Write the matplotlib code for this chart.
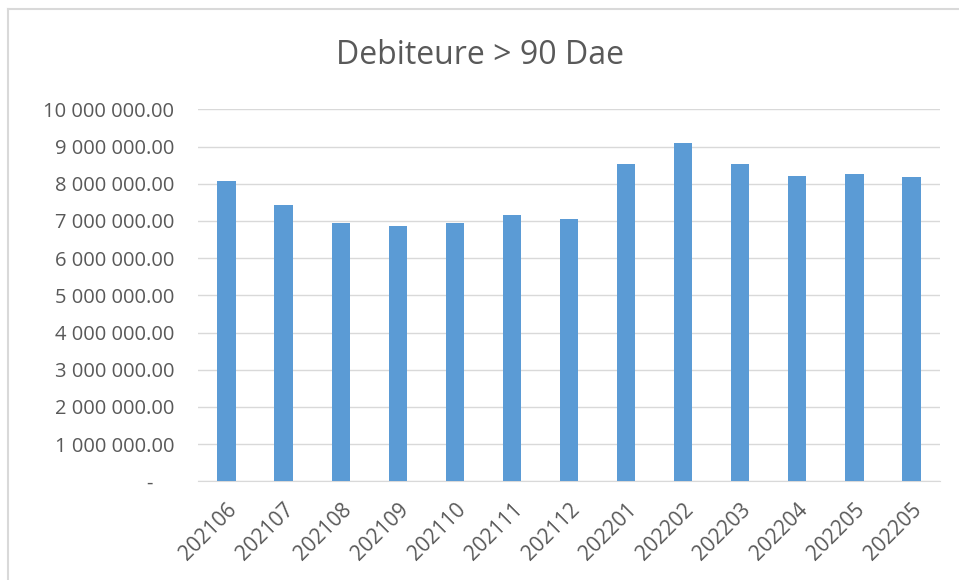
import matplotlib.pyplot as plt
from matplotlib.ticker import FuncFormatter

# months on the x axis (the last one repeats in the source sheet)
months = ['202106', '202107', '202108', '202109', '202110', '202111', '202112',
          '202201', '202202', '202203', '202204', '202205', '202205']
debtors_90 = [8080000, 7420000, 6940000, 6870000, 6940000, 7150000, 7050000,
              8530000, 9090000, 8530000, 8210000, 8250000, 8180000]
y_ticks = [0, 1000000, 2000000, 3000000, 4000000, 5000000, 6000000,
           7000000, 8000000, 9000000, 10000000]

plt.rcParams['font.family'] = ['Open Sans', 'DejaVu Sans']
grey = '#595959'

fig = plt.figure(figsize=(9.59, 5.8), dpi=100)
ax = fig.add_axes([198 / 959, 1 - 481.3 / 580, 742 / 959, 372 / 580])

x = range(len(months))
ax.bar(x, debtors_90, width=0.32, color='#5B9BD5', zorder=3)

ax.set_xlim(-0.5, len(months) - 0.5)
ax.set_ylim(0, 10000000)
ax.set_yticks(y_ticks)


def money(v, pos):
    if v == 0:
        return '-    '
    return '{:,.2f}'.format(v).replace(',', ' ')


ax.yaxis.set_major_formatter(FuncFormatter(money))
ax.grid(axis='y', color='#D9D9D9', linewidth=1, zorder=0)
for s in ['top', 'right', 'left']:
    ax.spines[s].set_visible(False)
ax.spines['bottom'].set_color('#D9D9D9')
ax.tick_params(axis='both', length=0, colors=grey)
ax.tick_params(axis='y', pad=17, labelsize=14.5)
ax.set_xticks(list(x))
ax.set_xticklabels(months, rotation=45, ha='right', rotation_mode='anchor')
ax.tick_params(axis='x', pad=13, labelsize=15)

fig.text(0.5, 1 - 56 / 580, 'Debiteure > 90 Dae', ha='center', va='center',
         fontsize=23, color=grey)

# chart frame, cropped on the right and bottom
fig.add_artist(plt.Line2D([8 / 959, 8 / 959], [0, 1 - 9 / 580], color='#D9D9D9', lw=1.5))
fig.add_artist(plt.Line2D([8 / 959, 1], [1 - 9 / 580, 1 - 9 / 580], color='#D9D9D9', lw=1.5))

fig.savefig('out.png', dpi=100)
